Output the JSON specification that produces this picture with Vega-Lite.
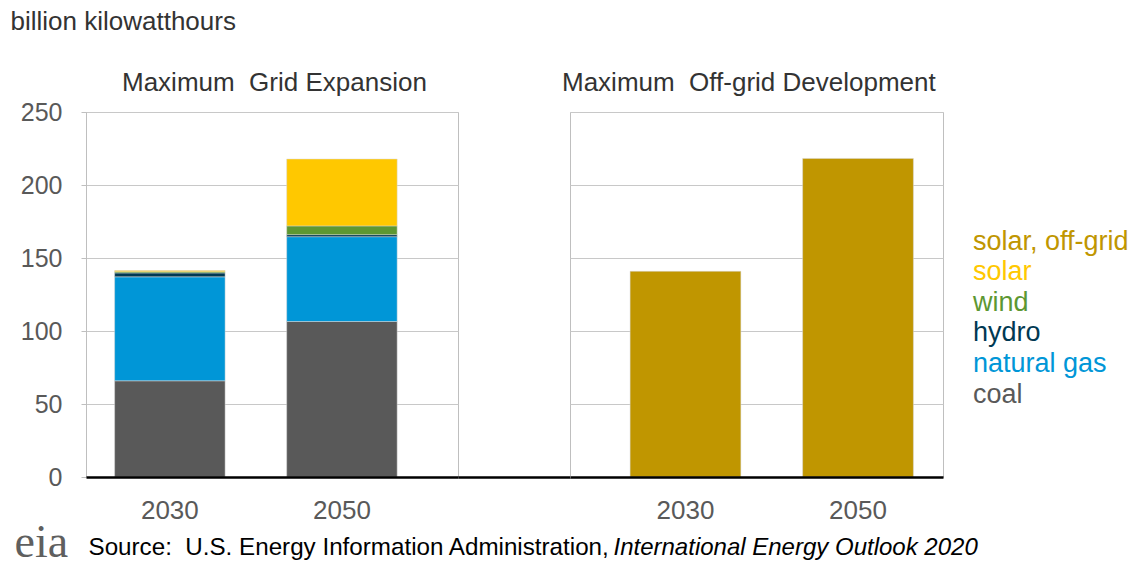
{
  "$schema": "https://vega.github.io/schema/vega-lite/v6.json",
  "background": "white",
  "padding": {"left": 10, "top": 8, "right": 5, "bottom": 5},
  "config": {
    "font": "Liberation Sans",
    "view": {"stroke": "#bfbfbf", "strokeWidth": 1},
    "title": {"font": "Liberation Sans", "fontSize": 26, "fontWeight": "normal", "color": "#333333"}
  },
  "datasets": {
    "grid": [
      {"year": "2030", "source": "coal", "rank": 1, "value": 65.9},
      {"year": "2030", "source": "natural gas", "rank": 2, "value": 71.2},
      {"year": "2030", "source": "hydro", "rank": 3, "value": 2.7},
      {"year": "2030", "source": "wind", "rank": 4, "value": 0.8},
      {"year": "2030", "source": "solar", "rank": 5, "value": 0.8},
      {"year": "2050", "source": "coal", "rank": 1, "value": 106.5},
      {"year": "2050", "source": "natural gas", "rank": 2, "value": 58.1},
      {"year": "2050", "source": "hydro", "rank": 3, "value": 1.4},
      {"year": "2050", "source": "wind", "rank": 4, "value": 6.0},
      {"year": "2050", "source": "solar", "rank": 5, "value": 45.8}
    ],
    "offgrid": [
      {"year": "2030", "source": "solar, off-grid", "rank": 6, "value": 140.9},
      {"year": "2050", "source": "solar, off-grid", "rank": 6, "value": 218.2}
    ]
  },
  "spacing": 0,
  "bounds": "flush",
  "resolve": {
    "scale": {"x": "independent", "y": "independent", "color": "shared"},
    "legend": {"color": "shared"}
  },
  "hconcat": [
    {
      "width": 372,
      "height": 365,
      "title": {"text": "Maximum\u00a0 Grid Expansion", "anchor": "start", "frame": "group", "dx": 36, "offset": 4},
      "data": {"name": "grid"},
      "mark": {"type": "bar", "stroke": "#d9d9d9", "strokeWidth": 0.5},
      "encoding": {
        "x": {
          "field": "year", "type": "nominal",
          "scale": {"paddingInner": 0.358, "paddingOuter": 0.26, "align": 0.32},
          "axis": {
            "labelAngle": 0, "labelFontSize": 26, "labelColor": "#595959", "labelPadding": 20,
            "ticks": false, "domainColor": "#000000", "domainWidth": 2.5, "zindex": 1,
            "title": "Source:\u00a0 U.S. Energy Information Administration,",
            "titleX": 2, "titleY": 77, "titleAlign": "left", "titleBaseline": "alphabetic",
            "titleFontSize": 24.2, "titleFontWeight": "normal", "titleColor": "#000000"
          }
        },
        "y": {
          "field": "value", "type": "quantitative", "stack": "zero",
          "scale": {"domain": [0, 250], "nice": false},
          "axis": {
            "values": [0, 50, 100, 150, 200, 250],
            "grid": true, "gridColor": "#c8c8c8",
            "domainColor": "#bfbfbf", "tickColor": "#bfbfbf", "tickSize": 5,
            "labelFontSize": 25, "labelColor": "#595959", "labelPadding": 19,
            "title": null
          }
        },
        "color": {
          "field": "source", "type": "nominal",
          "scale": {
            "domain": ["solar, off-grid", "solar", "wind", "hydro", "natural gas", "coal"],
            "range": ["#c09600", "#ffc800", "#5d9732", "#003953", "#0096d7", "#595959"]
          },
          "legend": {
            "orient": "none", "legendX": 860, "legendY": 116,
            "title": null, "padding": 0,
            "symbolSize": 0, "symbolOpacity": 0, "symbolStrokeWidth": 0, "labelOffset": 0,
            "labelFontSize": 27, "rowPadding": 2.6, "labelLimit": 300,
            "labelColor": {"expr": "scale('color', datum.value)"}
          }
        },
        "order": {"field": "rank", "type": "quantitative"}
      }
    },
    {
      "width": 112,
      "height": 365,
      "view": {"stroke": null},
      "data": {"values": [{"k": "", "v": 0}]},
      "mark": {"type": "bar", "opacity": 0},
      "encoding": {
        "x": {
          "field": "k", "type": "nominal",
          "axis": {"labels": false, "ticks": false, "domainColor": "#000000", "domainWidth": 2.5, "title": null, "zindex": 1}
        },
        "y": {
          "field": "v", "type": "quantitative",
          "scale": {"domain": [0, 250], "nice": false},
          "axis": {
            "labels": false, "ticks": false, "domain": false, "grid": false,
            "title": "billion kilowatthours", "titleAngle": 0, "titleAlign": "left",
            "titleBaseline": "alphabetic", "titleX": -448, "titleY": -83,
            "titleFontSize": 26, "titleFontWeight": "normal", "titleColor": "#333333"
          }
        }
      }
    },
    {
      "width": 373,
      "height": 365,
      "title": {"text": "Maximum\u00a0 Off-grid Development", "anchor": "start", "frame": "group", "dx": -8, "offset": 16},
      "data": {"name": "offgrid"},
      "mark": {"type": "bar", "stroke": "#d9d9d9", "strokeWidth": 0.5},
      "encoding": {
        "x": {
          "field": "year", "type": "nominal",
          "scale": {"paddingInner": 0.358, "paddingOuter": 0.26, "align": 0.67},
          "axis": {
            "labelAngle": 0, "labelFontSize": 26, "labelColor": "#595959", "labelPadding": 20,
            "ticks": false, "domainColor": "#000000", "domainWidth": 2.5, "zindex": 1,
            "title": "International Energy Outlook 2020",
            "titleX": 43, "titleY": 77, "titleAlign": "left", "titleBaseline": "alphabetic",
            "titleFontSize": 24, "titleFontWeight": "normal", "titleFontStyle": "italic", "titleColor": "#000000"
          }
        },
        "y": {
          "field": "value", "type": "quantitative",
          "scale": {"domain": [0, 250], "nice": false},
          "axis": {
            "values": [0, 50, 100, 150, 200, 250],
            "grid": true, "gridColor": "#c8c8c8",
            "labels": false, "ticks": false, "domain": false,
            "title": "eia", "titleAngle": 0, "titleAlign": "left", "titleBaseline": "alphabetic",
            "titleX": -556, "titleY": 444,
            "titleFont": "Liberation Serif", "titleFontSize": 46, "titleFontWeight": "normal", "titleColor": "#5f5f5f"
          }
        },
        "color": {"field": "source", "type": "nominal"}
      }
    }
  ]
}
